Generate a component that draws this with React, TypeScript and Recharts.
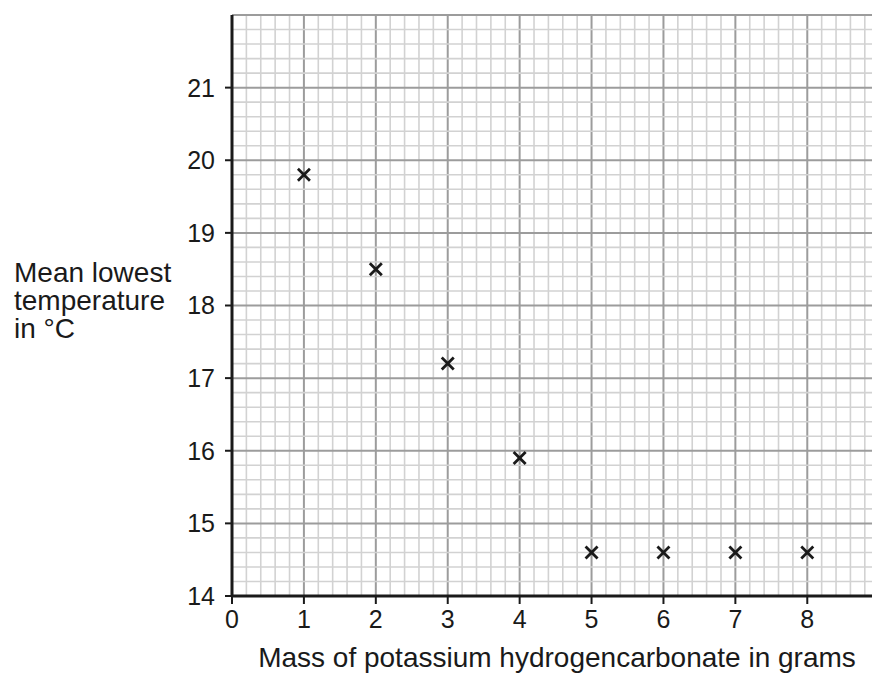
import React from 'react';
import { ScatterChart, Scatter, XAxis, YAxis, ReferenceLine } from 'recharts';

const massGrams = [1, 2, 3, 4, 5, 6, 7, 8];
const meanLowestTemp = [19.8, 18.5, 17.2, 15.9, 14.6, 14.6, 14.6, 14.6];
const xTicks = [0, 1, 2, 3, 4, 5, 6, 7, 8];
const yTicks = [14, 15, 16, 17, 18, 19, 20, 21];
const xDomain: [number, number] = [0, 8.9];
const yDomain: [number, number] = [14, 22];
const xLabel = 'Mass of potassium hydrogencarbonate in grams';
const yLabelLines = ['Mean lowest', 'temperature', 'in °C'];

const points = massGrams.map((m, i) => ({ x: m, y: meanLowestTemp[i] }));

// grid line positions (every 0.2 units, majors at whole units)
const gridStep = 0.2;
const xGrid: { v: number; major: boolean }[] = [];
for (let i = 1; i * gridStep <= xDomain[1] + 1e-9; i++) {
  const v = Math.round(i * gridStep * 10) / 10;
  xGrid.push({ v, major: i % 5 === 0 });
}
const yGrid: { v: number; major: boolean }[] = [];
for (let i = 1; yDomain[0] + i * gridStep <= yDomain[1] + 1e-9; i++) {
  const v = Math.round((yDomain[0] + i * gridStep) * 10) / 10;
  yGrid.push({ v, major: i % 5 === 0 });
}

const FONT = '"Liberation Sans", Arial, sans-serif';
const MINOR = '#d2d2d2';
const MAJOR = '#9c9c9c';
const INK = '#1a1a1a';

const CrossMark = (props: any) => {
  const { cx, cy } = props;
  if (cx == null || cy == null) return null;
  const s = 6;
  return (
    <g stroke={INK} strokeWidth={2.8} strokeLinecap="butt">
      <line x1={cx - s} y1={cy - s} x2={cx + s} y2={cy + s} />
      <line x1={cx - s} y1={cy + s} x2={cx + s} y2={cy - s} />
    </g>
  );
};

const YLabel = (props: any) => {
  return (
    <text x={14} y={282} fill={INK} fontSize={28} fontFamily={FONT}>
      {yLabelLines.map((l, i) => (
        <tspan key={i} x={14} y={282 + i * 28}>
          {l}
        </tspan>
      ))}
    </text>
  );
};

const XLabel = (props: any) => {
  return (
    <text x={557} y={667} fill={INK} fontSize={28} fontFamily={FONT} textAnchor="middle">
      {xLabel}
    </text>
  );
};

export default function App() {
  return (
    <div style={{ position: 'absolute', left: 0, top: 0, width: 872, height: 673, background: '#fff' }}>
      <ScatterChart
        width={872}
        height={673}
        margin={{ top: 15, right: 0, bottom: 0, left: 0 }}
        style={{ fontFamily: FONT }}
      >
        {xGrid.map((g) => (
          <ReferenceLine
            key={'x' + g.v}
            x={g.v}
            stroke={g.major ? MAJOR : MINOR}
            strokeWidth={g.major ? 2 : 1.6}
            ifOverflow="visible"
          />
        ))}
        {yGrid.map((g) => (
          <ReferenceLine
            key={'y' + g.v}
            y={g.v}
            stroke={g.major ? MAJOR : MINOR}
            strokeWidth={g.major ? 2 : 1.6}
            ifOverflow="visible"
          />
        ))}
        <XAxis
          type="number"
          dataKey="x"
          domain={xDomain}
          ticks={xTicks}
          allowDataOverflow
          height={77}
          tickSize={8}
          tickMargin={6}
          tick={{ fill: INK, fontSize: 25, fontFamily: FONT }}
          tickLine={{ stroke: INK, strokeWidth: 2 }}
          axisLine={{ stroke: INK, strokeWidth: 3 }}
          label={<XLabel />}
        />
        <YAxis
          type="number"
          dataKey="y"
          domain={yDomain}
          ticks={yTicks}
          allowDataOverflow
          width={232}
          tickSize={7}
          tickMargin={10}
          tick={{ fill: INK, fontSize: 25, fontFamily: FONT }}
          tickLine={{ stroke: INK, strokeWidth: 2 }}
          axisLine={{ stroke: INK, strokeWidth: 3 }}
          label={<YLabel />}
        />
        <Scatter data={points} shape={<CrossMark />} isAnimationActive={false} />
      </ScatterChart>
    </div>
  );
}
